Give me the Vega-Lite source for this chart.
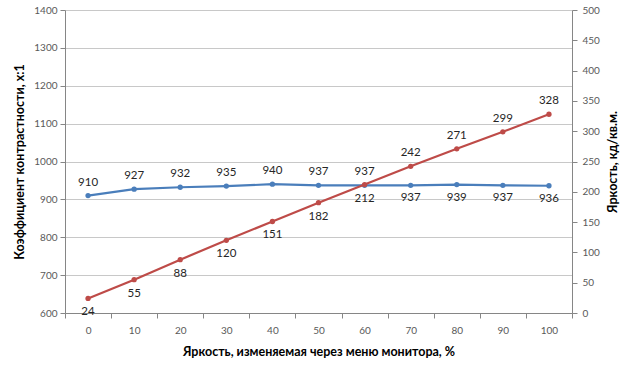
{
  "$schema": "https://vega.github.io/schema/vega-lite/v6.json",
  "width": 507,
  "height": 303,
  "autosize": {"type": "none"},
  "padding": {"left": 65, "top": 10, "right": 68, "bottom": 63},
  "background": "#ffffff",
  "config": {
    "view": {"stroke": null},
    "font": "Lato",
    "axis": {
      "labelFont": "Lato",
      "titleFont": "Lato",
      "labelColor": "#595959",
      "labelFontSize": 10,
      "titleFontSize": 12.5,
      "titleFontWeight": "bold",
      "titleColor": "#000000",
      "domainColor": "#868686",
      "tickColor": "#868686",
      "gridColor": "#c8c8c8",
      "tickSize": 5
    }
  },
  "data": {
    "values": [
      {"x": 0, "contrast": 910, "brightness": 24},
      {"x": 10, "contrast": 927, "brightness": 55},
      {"x": 20, "contrast": 932, "brightness": 88},
      {"x": 30, "contrast": 935, "brightness": 120},
      {"x": 40, "contrast": 940, "brightness": 151},
      {"x": 50, "contrast": 937, "brightness": 182},
      {"x": 60, "contrast": 937, "brightness": 212},
      {"x": 70, "contrast": 937, "brightness": 242},
      {"x": 80, "contrast": 939, "brightness": 271},
      {"x": 90, "contrast": 937, "brightness": 299},
      {"x": 100, "contrast": 936, "brightness": 328}
    ]
  },
  "encoding": {
    "x": {
      "field": "x",
      "type": "ordinal",
      "bandPosition": 0.5,
      "scale": {"type": "band", "paddingInner": 0, "paddingOuter": 0},
      "sort": null,
      "axis": {
        "title": "Яркость, изменяемая через меню монитора, %",
        "labelAngle": 0,
        "bandPosition": 0,
        "tickBand": "extent",
        "grid": false,
        "labelPadding": 7,
        "titlePadding": 10
      }
    }
  },
  "layer": [
    {
      "encoding": {
        "y": {
          "field": "contrast",
          "type": "quantitative",
          "scale": {"domain": [600, 1400], "nice": false, "zero": false},
          "axis": {
            "orient": "left",
            "title": "Коэффициент контрастности, x:1",
            "values": [600, 700, 800, 900, 1000, 1100, 1200, 1300, 1400],
            "format": "d",
            "grid": true,
            "labelPadding": 3,
            "titlePadding": 7
          }
        }
      },
      "layer": [
        {"mark": {"type": "line", "color": "#4A7EBB", "strokeWidth": 2.2}},
        {"mark": {"type": "point", "filled": true, "color": "#4A7EBB", "size": 28, "opacity": 1}},
        {
          "transform": [{"filter": "datum.x <= 60"}],
          "mark": {"type": "text", "dy": -13, "fontSize": 11.5, "color": "#262626", "font": "Lato"},
          "encoding": {"text": {"field": "contrast", "type": "quantitative", "format": "d"}}
        },
        {
          "transform": [{"filter": "datum.x >= 70"}],
          "mark": {"type": "text", "dy": 13, "fontSize": 11.5, "color": "#262626", "font": "Lato"},
          "encoding": {"text": {"field": "contrast", "type": "quantitative", "format": "d"}}
        }
      ]
    },
    {
      "encoding": {
        "y": {
          "field": "brightness",
          "type": "quantitative",
          "scale": {"domain": [0, 500], "nice": false},
          "axis": {
            "orient": "right",
            "title": "Яркость, кд/кв.м.",
            "titleAngle": 270,
            "values": [0, 50, 100, 150, 200, 250, 300, 350, 400, 450, 500],
            "format": "d",
            "grid": false,
            "labelPadding": 5,
            "titlePadding": 20
          }
        }
      },
      "layer": [
        {"mark": {"type": "line", "color": "#BE4B48", "strokeWidth": 2.2}},
        {"mark": {"type": "point", "filled": true, "color": "#BE4B48", "size": 28, "opacity": 1}},
        {
          "transform": [{"filter": "datum.x <= 60"}],
          "mark": {"type": "text", "dy": 14, "fontSize": 11.5, "color": "#262626", "font": "Lato"},
          "encoding": {"text": {"field": "brightness", "type": "quantitative", "format": "d"}}
        },
        {
          "transform": [{"filter": "datum.x >= 70"}],
          "mark": {"type": "text", "dy": -13, "fontSize": 11.5, "color": "#262626", "font": "Lato"},
          "encoding": {"text": {"field": "brightness", "type": "quantitative", "format": "d"}}
        }
      ]
    }
  ],
  "resolve": {"scale": {"y": "independent"}, "axis": {"y": "independent"}}
}
